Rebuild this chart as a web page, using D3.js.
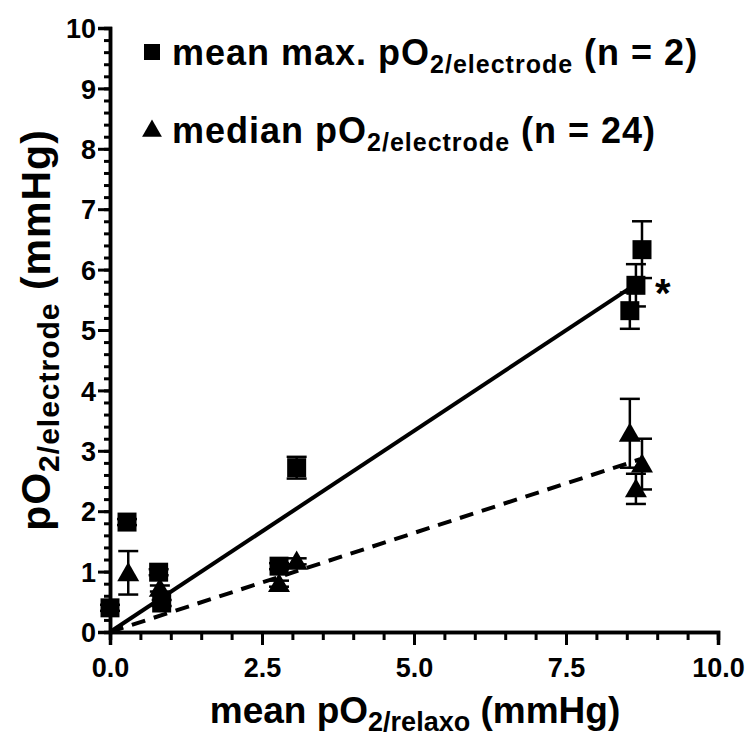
<!DOCTYPE html>
<html>
<head>
<meta charset="utf-8">
<script src="https://cdn.jsdelivr.net/npm/d3@7"></script>
<style>
  body { margin: 0; background: #fff; }
  text { font-family: "Liberation Sans", Arial, sans-serif; font-weight: bold; fill: #000; }
</style>
</head>
<body>
<svg id="chart" width="749" height="742"></svg>
<script>
// mean max. pO2/electrode (n = 2): x, y, error
const sqX   = [0.0, 0.28, 0.8, 0.85, 2.78, 3.07, 8.55, 8.65, 8.75];
const sqY   = [0.4, 1.82, 0.99, 0.48, 1.09, 2.72, 5.32, 5.74, 6.33];
const sqErr = [0.05, 0.05, 0.05, 0.05, 0.05, 0.18, 0.3, 0.35, 0.47];

// median pO2/electrode (n = 24)
const triX   = [0.3, 0.82, 2.78, 3.07, 8.55, 8.75, 8.65];
const triY   = [0.98, 0.72, 0.8, 1.17, 3.29, 2.78, 2.37];
const triErr = [0.36, 0.05, 0.05, 0.05, 0.57, 0.42, 0.25];

// regression lines (start/end points)
const fitSolidX = [0, 8.65];
const fitSolidY = [0, 5.76];
const fitDashX  = [0, 8.72];
const fitDashY  = [0, 2.86];

const xTicks = [0, 2.5, 5, 7.5, 10];
const yTicks = [0, 1, 2, 3, 4, 5, 6, 7, 8, 9, 10];

const svg = d3.select("#chart");

const x = d3.scaleLinear().domain([0, 10]).range([110, 718]);
const y = d3.scaleLinear().domain([0, 10]).range([632, 28]);

// minor ticks first so major ones draw over them
const xMinor = svg.append("g")
    .attr("transform", `translate(0,${y(0)})`)
    .call(d3.axisBottom(x).tickValues(d3.range(0, 10.01, 0.5)).tickSize(8).tickFormat(""));
const yMinor = svg.append("g")
    .attr("transform", `translate(${x(0)},0)`)
    .call(d3.axisLeft(y).tickValues(d3.range(0, 10.01, 0.2)).tickSize(6).tickFormat(""));

const xAxis = svg.append("g")
    .attr("transform", `translate(0,${y(0)})`)
    .call(d3.axisBottom(x).tickValues(xTicks).tickSize(13).tickPadding(13).tickFormat(d3.format(".1f")));
const yAxis = svg.append("g")
    .attr("transform", `translate(${x(0)},0)`)
    .call(d3.axisLeft(y).tickValues(yTicks).tickSize(12).tickPadding(2));

[xMinor, yMinor, xAxis, yAxis].forEach(g => {
    g.select(".domain").attr("stroke", "#000").attr("stroke-width", 3.5);
    g.selectAll(".tick line").attr("stroke", "#000").attr("stroke-width", 3);
});
xAxis.selectAll(".tick text").style("font-size", "27px");
yAxis.selectAll(".tick text").style("font-size", "27px").attr("dy", "0.36em");

// regression lines
svg.append("line")
    .attr("x1", x(fitSolidX[0])).attr("y1", y(fitSolidY[0]))
    .attr("x2", x(fitSolidX[1])).attr("y2", y(fitSolidY[1]))
    .attr("stroke", "#000").attr("stroke-width", 4);
svg.append("line")
    .attr("x1", x(fitDashX[0])).attr("y1", y(fitDashY[0]))
    .attr("x2", x(fitDashX[1])).attr("y2", y(fitDashY[1]))
    .attr("stroke", "#000").attr("stroke-width", 4)
    .attr("stroke-dasharray", "14,9");

function errorBars(xs, ys, es) {
    const g = svg.append("g").attr("stroke", "#000").attr("stroke-width", 2.5);
    xs.forEach((xv, i) => {
        const cx = x(xv), top = y(ys[i] + es[i]), bot = y(ys[i] - es[i]);
        g.append("line").attr("x1", cx).attr("x2", cx).attr("y1", top).attr("y2", bot);
        g.append("line").attr("x1", cx - 10).attr("x2", cx + 10).attr("y1", top).attr("y2", top);
        g.append("line").attr("x1", cx - 10).attr("x2", cx + 10).attr("y1", bot).attr("y2", bot);
    });
}
errorBars(sqX, sqY, sqErr);
errorBars(triX, triY, triErr);

const sqSym = d3.symbol().type(d3.symbolSquare).size(19 * 19);
const triSym = d3.symbol().type(d3.symbolTriangle).size(210);

svg.append("g").selectAll("path")
    .data(sqX)
    .join("path")
    .attr("d", sqSym)
    .attr("transform", (d, i) => `translate(${x(d)},${y(sqY[i])})`)
    .attr("fill", "#000");

svg.append("g").selectAll("path")
    .data(triX)
    .join("path")
    .attr("d", triSym)
    .attr("transform", (d, i) => `translate(${x(d)},${y(triY[i]) + 2})`)
    .attr("fill", "#000");

// significance star
svg.append("text")
    .attr("x", 655).attr("y", 307)
    .style("font-size", "40px")
    .text("*");

// legend
const legend = svg.append("g");
legend.append("path")
    .attr("d", d3.symbol().type(d3.symbolSquare).size(16 * 16))
    .attr("transform", "translate(152,52)");
legend.append("path")
    .attr("d", d3.symbol().type(d3.symbolTriangle).size(170))
    .attr("transform", "translate(152,131)");

function subText(g, parts, spacing) {
    const t = g.append("text").style("letter-spacing", (spacing || 0) + "px");
    parts.forEach(p => {
        t.append("tspan")
            .attr("dy", p.dy || 0)
            .style("font-size", p.size + "px")
            .text(p.s);
    });
    return t;
}

subText(legend, [
    { s: "mean max. pO", size: 36 },
    { s: "2/electrode", size: 25, dy: 8 },
    { s: " (n = 2)", size: 36, dy: -8 }
], 1).attr("x", 172).attr("y", 65);

subText(legend, [
    { s: "median pO", size: 36 },
    { s: "2/electrode", size: 25, dy: 8 },
    { s: " (n = 24)", size: 36, dy: -8 }
], 1).attr("x", 172).attr("y", 143);

// axis titles
subText(svg, [
    { s: "mean pO", size: 37 },
    { s: "2/relaxo", size: 27, dy: 8 },
    { s: " (mmHg)", size: 37, dy: -8 }
]).attr("x", 415).attr("y", 723).attr("text-anchor", "middle");

subText(svg, [
    { s: "pO", size: 41 },
    { s: "2/electrode", size: 30, dy: 9 },
    { s: " (mmHg)", size: 41, dy: -9 }
], 1).attr("text-anchor", "middle")
  .attr("transform", "translate(50,330) rotate(-90)");
</script>
</body>
</html>
